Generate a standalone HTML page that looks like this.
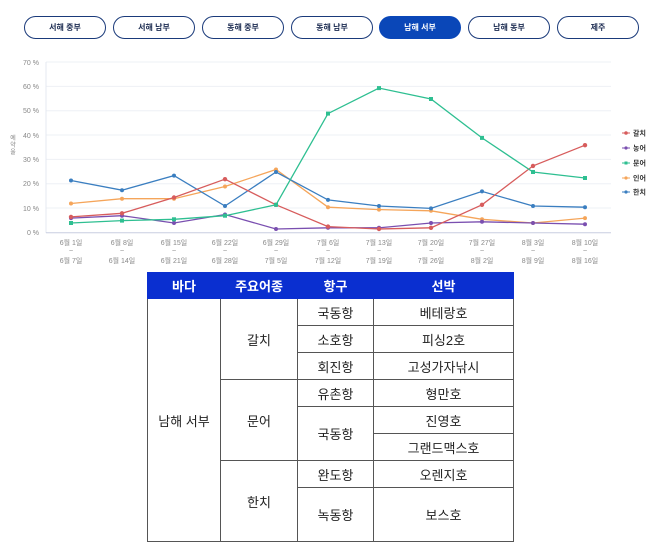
<!DOCTYPE html>
<html><head><meta charset="utf-8"><style>
body{margin:0;width:658px;height:549px;background:#fff;overflow:hidden;font-family:"Liberation Sans","Noto Sans CJK KR",sans-serif;}
.btn{position:absolute;top:16px;width:80px;height:21px;border:1.5px solid #1a3a7a;border-radius:12px;font-size:8px;font-weight:bold;color:#1a2a50;text-align:center;line-height:21px;background:#fff;}
.btn.on{background:#0a47b8;border-color:#0a47b8;color:#fff;}
table{position:absolute;left:147px;top:272px;border-collapse:collapse;font-size:13px;color:#222;}
td,th{border:1px solid #555;text-align:center;padding:0;height:26px;}
th{background:#0a2fd0;color:#fff;font-weight:bold;height:25px;border-color:#0a2fd0;}
</style></head><body>
<div class="btn" style="left:24px">서해 중부</div>
<div class="btn" style="left:113px">서해 남부</div>
<div class="btn" style="left:202px">동해 중부</div>
<div class="btn" style="left:291px">동해 남부</div>
<div class="btn on" style="left:379px">남해 서부</div>
<div class="btn" style="left:468px">남해 동부</div>
<div class="btn" style="left:557px">제주</div>
<svg width="658" height="270" style="position:absolute;left:0;top:0" font-family="Liberation Sans,Noto Sans CJK KR,sans-serif">
<g stroke="#eef0f5" stroke-width="1">
<line x1="46" x2="611" y1="62" y2="62"/><line x1="46" x2="611" y1="86.4" y2="86.4"/><line x1="46" x2="611" y1="110.7" y2="110.7"/><line x1="46" x2="611" y1="135" y2="135"/><line x1="46" x2="611" y1="159.4" y2="159.4"/><line x1="46" x2="611" y1="183.7" y2="183.7"/><line x1="46" x2="611" y1="208" y2="208"/>
</g>
<line x1="46" x2="46" y1="62" y2="233" stroke="#e4e8f0"/>
<line x1="46" x2="611" y1="232.7" y2="232.7" stroke="#c8cde0"/>
<g font-size="7" fill="#888" text-anchor="end">
<text x="39" y="235">0 %</text><text x="39" y="211">10 %</text><text x="39" y="186">20 %</text><text x="39" y="162">30 %</text><text x="39" y="138">40 %</text><text x="39" y="113">50 %</text><text x="39" y="89">60 %</text><text x="39" y="65">70 %</text>
</g>
<g font-size="6" fill="#888" text-anchor="middle"><text x="13" y="140">예</text><text x="13" y="147">약</text><text x="13" y="154">율</text></g>
<g font-size="7" fill="#888" text-anchor="middle">
<text x="71" y="245">6월 1일</text><text x="71" y="253">~</text><text x="71" y="263">6월 7일</text>
<text x="122" y="245">6월 8일</text><text x="122" y="253">~</text><text x="122" y="263">6월 14일</text>
<text x="174" y="245">6월 15일</text><text x="174" y="253">~</text><text x="174" y="263">6월 21일</text>
<text x="225" y="245">6월 22일</text><text x="225" y="253">~</text><text x="225" y="263">6월 28일</text>
<text x="276" y="245">6월 29일</text><text x="276" y="253">~</text><text x="276" y="263">7월 5일</text>
<text x="328" y="245">7월 6일</text><text x="328" y="253">~</text><text x="328" y="263">7월 12일</text>
<text x="379" y="245">7월 13일</text><text x="379" y="253">~</text><text x="379" y="263">7월 19일</text>
<text x="431" y="245">7월 20일</text><text x="431" y="253">~</text><text x="431" y="263">7월 26일</text>
<text x="482" y="245">7월 27일</text><text x="482" y="253">~</text><text x="482" y="263">8월 2일</text>
<text x="533" y="245">8월 3일</text><text x="533" y="253">~</text><text x="533" y="263">8월 9일</text>
<text x="585" y="245">8월 10일</text><text x="585" y="253">~</text><text x="585" y="263">8월 16일</text>
</g>
<g fill="none" stroke-width="1.3">
<polyline stroke="#f5a55a" points="71,203.5 122,198.7 174,198.7 225,186.5 276,169.5 328,207.2 379,209.6 431,210.8 482,219.3 533,223 585,218.1"/>
<polyline stroke="#3a7ec0" points="71,180.5 122,190.2 174,175.6 225,206 276,172 328,199.9 379,206 431,208.4 482,191.4 533,206 585,207.2"/>
<polyline stroke="#7a4fb0" points="71,218.1 122,215.7 174,223 225,214.5 276,229 328,227.8 379,227.8 431,223 482,221.8 533,223 585,224.2"/>
<polyline stroke="#d75c5c" points="71,216.9 122,213.3 174,197.5 225,179.2 276,204.8 328,226.6 379,229 431,227.8 482,204.8 533,165.9 585,145.2"/>
<polyline stroke="#2ebf91" points="71,223 122,220.6 174,219.3 225,215.7 276,204.8 328,113.6 379,88.1 431,99 482,137.9 533,172 585,178"/>
</g>
<g fill="#f5a55a"><circle cx="71" cy="203.5" r="2"/><circle cx="122" cy="198.7" r="2"/><circle cx="174" cy="198.7" r="2"/><circle cx="225" cy="186.5" r="2"/><circle cx="276" cy="169.5" r="2"/><circle cx="328" cy="207.2" r="2"/><circle cx="379" cy="209.6" r="2"/><circle cx="431" cy="210.8" r="2"/><circle cx="482" cy="219.3" r="2"/><circle cx="533" cy="223" r="2"/><circle cx="585" cy="218.1" r="2"/></g>
<g fill="#3a7ec0"><circle cx="71" cy="180.5" r="2"/><circle cx="122" cy="190.2" r="2"/><circle cx="174" cy="175.6" r="2"/><circle cx="225" cy="206" r="2"/><circle cx="276" cy="172" r="2"/><circle cx="328" cy="199.9" r="2"/><circle cx="379" cy="206" r="2"/><circle cx="431" cy="208.4" r="2"/><circle cx="482" cy="191.4" r="2"/><circle cx="533" cy="206" r="2"/><circle cx="585" cy="207.2" r="2"/></g>
<g fill="#7a4fb0"><circle cx="71" cy="218.1" r="2"/><circle cx="122" cy="215.7" r="2"/><circle cx="174" cy="223" r="2"/><circle cx="225" cy="214.5" r="2"/><circle cx="276" cy="229" r="2"/><circle cx="328" cy="227.8" r="2"/><circle cx="379" cy="227.8" r="2"/><circle cx="431" cy="223" r="2"/><circle cx="482" cy="221.8" r="2"/><circle cx="533" cy="223" r="2"/><circle cx="585" cy="224.2" r="2"/></g>
<g fill="#d75c5c"><circle cx="71" cy="216.9" r="2.2"/><circle cx="122" cy="213.3" r="2.2"/><circle cx="174" cy="197.5" r="2.2"/><circle cx="225" cy="179.2" r="2.2"/><circle cx="276" cy="204.8" r="2.2"/><circle cx="328" cy="226.6" r="2.2"/><circle cx="379" cy="229" r="2.2"/><circle cx="431" cy="227.8" r="2.2"/><circle cx="482" cy="204.8" r="2.2"/><circle cx="533" cy="165.9" r="2.2"/><circle cx="585" cy="145.2" r="2.2"/></g>
<g fill="#2ebf91"><rect x="69" y="221" width="4" height="4"/><rect x="120" y="218.6" width="4" height="4"/><rect x="172" y="217.3" width="4" height="4"/><rect x="223" y="213.7" width="4" height="4"/><rect x="274" y="202.8" width="4" height="4"/><rect x="326" y="111.6" width="4" height="4"/><rect x="377" y="86.1" width="4" height="4"/><rect x="429" y="97" width="4" height="4"/><rect x="480" y="135.9" width="4" height="4"/><rect x="531" y="170" width="4" height="4"/><rect x="583" y="176" width="4" height="4"/></g>
<g font-size="7" font-weight="bold" fill="#333">
<line x1="622" x2="630" y1="133" y2="133" stroke="#d75c5c"/><circle cx="626" cy="133" r="1.8" fill="#d75c5c"/><text x="633" y="135.5">갈치</text>
<line x1="622" x2="630" y1="148" y2="148" stroke="#7a4fb0"/><circle cx="626" cy="148" r="1.6" fill="#7a4fb0"/><text x="633" y="150.5">농어</text>
<line x1="622" x2="630" y1="163" y2="163" stroke="#2ebf91"/><rect x="624.5" y="161.5" width="3" height="3" fill="#2ebf91"/><text x="633" y="165.5">문어</text>
<line x1="622" x2="630" y1="178" y2="178" stroke="#f5a55a"/><circle cx="626" cy="178" r="1.6" fill="#f5a55a"/><text x="633" y="180.5">인어</text>
<line x1="622" x2="630" y1="192" y2="192" stroke="#3a7ec0"/><circle cx="626" cy="192" r="1.6" fill="#3a7ec0"/><text x="633" y="194.5">한치</text>
</g>
</svg>
<table>
<tr><th style="width:72px">바다</th><th style="width:76px">주요어종</th><th style="width:75px">항구</th><th style="width:139px">선박</th></tr>
<tr><td rowspan="9" style="height:242px">남해 서부</td><td rowspan="3">갈치</td><td>국동항</td><td>베테랑호</td></tr>
<tr><td>소호항</td><td>피싱2호</td></tr>
<tr><td>회진항</td><td>고성가자낚시</td></tr>
<tr><td rowspan="3">문어</td><td>유촌항</td><td>형만호</td></tr>
<tr><td rowspan="2">국동항</td><td>진영호</td></tr>
<tr><td>그랜드맥스호</td></tr>
<tr><td rowspan="3">한치</td><td>완도항</td><td>오렌지호</td></tr>
<tr><td rowspan="2" style="height:53px">녹동항</td><td rowspan="2">보스호</td></tr>
<tr></tr>
</table>
</body></html>
